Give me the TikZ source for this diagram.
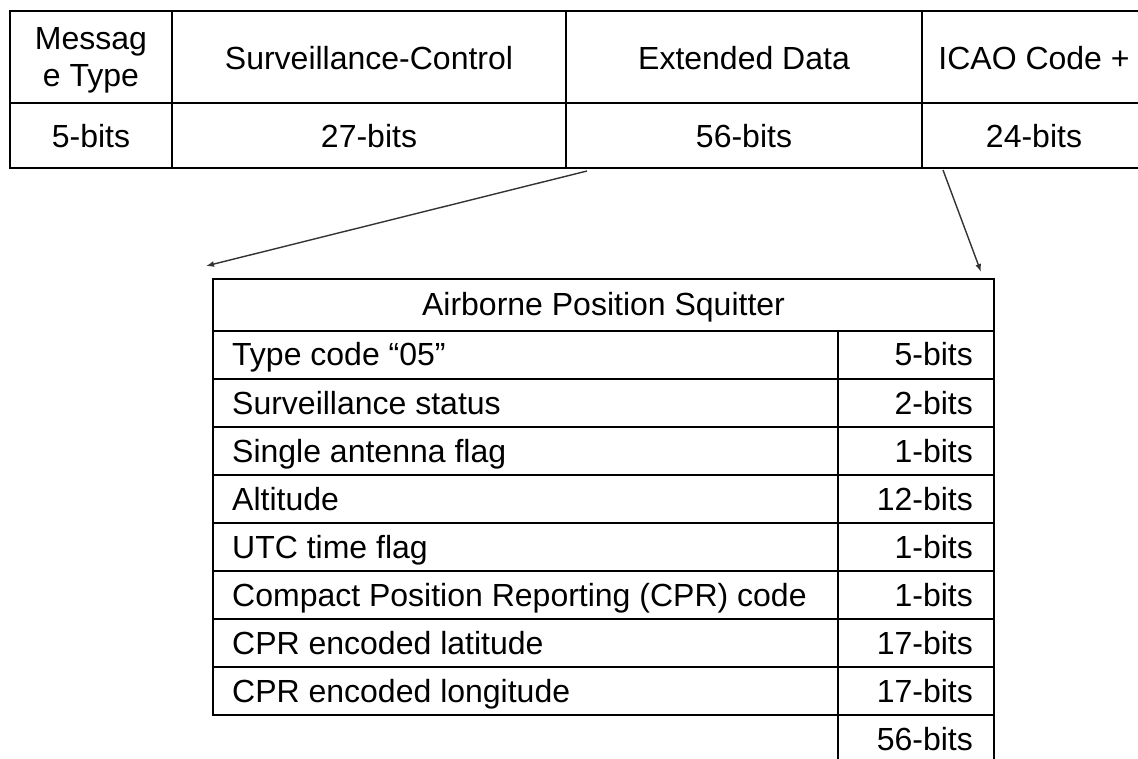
\documentclass[tikz,border=0pt]{standalone}
\usepackage{fontspec}
\setmainfont{Liberation Sans}
\usetikzlibrary{arrows.meta}
\begin{document}
\begin{tikzpicture}[x=1pt,y=-1pt,
  rule/.style={line width=2.2pt, line cap=rect},
  lbl/.style={font=\fontsize{32}{37}\selectfont, inner sep=0pt, anchor=base},
  lft/.style={lbl, anchor=base west},
  rgt/.style={lbl, anchor=base east},
  conn/.style={line width=1.4pt, draw=black!80, -{Latex[length=8pt,width=6pt]}}]
\useasboundingbox (0,0) rectangle (1138,759);

% ---- frame layout: grid of the top table (open on the right) ----
\draw[rule] (1138,11) -- (10,11) -- (10,168) -- (1138,168);
\draw[rule] (10,103) -- (1138,103);
\foreach \x in {172,566,922} \draw[rule] (\x,11) -- (\x,168);

% header cells (the two-line label is anchored on its last baseline)
\node[lbl, align=center] (mtype) at (91,87) {Messag\\e Type};
\node[lbl] (sc)   at (369,70) {Surveillance-Control};
\node[lbl] (ext)  at (744,70) {Extended Data};
\node[lbl] (icao) at (1034,70) {ICAO Code +};
% field widths
\node[lbl] (mtype-b) at (91,148)  {5-bits};
\node[lbl] (sc-b)    at (369,148) {27-bits};
\node[lbl] (ext-b)   at (744,148) {56-bits};
\node[lbl] (icao-b)  at (1034,148) {24-bits};

% ---- Airborne Position Squitter table ----
\draw[rule] (213,715) -- (213,279) -- (994,279) -- (994,759);
\draw[rule] (838,331) -- (838,759);
\foreach \y in {331,379,...,715} \draw[rule] (213,\y) -- (994,\y);

\node[lbl] (aps) at (603.5,316) {Airborne Position Squitter};

\node[lft] (f1) at (232,366) {Type code “05”};
\node[lft] (f2) at (232,414) {Surveillance status};
\node[lft] (f3) at (232,462) {Single antenna flag};
\node[lft] (f4) at (232,510) {Altitude};
\node[lft] (f5) at (232,558) {UTC time flag};
\node[lft] (f6) at (232,606) {Compact Position Reporting (CPR) code};
\node[lft] (f7) at (232,654) {CPR encoded latitude};
\node[lft] (f8) at (232,702) {CPR encoded longitude};

\node[rgt] (b1) at (973,366) {5-bits};
\node[rgt] (b2) at (973,414) {2-bits};
\node[rgt] (b3) at (973,462) {1-bits};
\node[rgt] (b4) at (973,510) {12-bits};
\node[rgt] (b5) at (973,558) {1-bits};
\node[rgt] (b6) at (973,606) {1-bits};
\node[rgt] (b7) at (973,654) {17-bits};
\node[rgt] (b8) at (973,702) {17-bits};
\node[rgt] (btot) at (973,750) {56-bits};

% ---- expansion arrows from the Extended Data field ----
\coordinate (ext-left)  at (587,171);
\coordinate (ext-right) at (943,170);
\coordinate (aps-left)  at (206,266);
\coordinate (aps-right) at (981,272);
\draw[conn] (ext-left) -- (aps-left);
\draw[conn] (ext-right) -- (aps-right);
\end{tikzpicture}
\end{document}
